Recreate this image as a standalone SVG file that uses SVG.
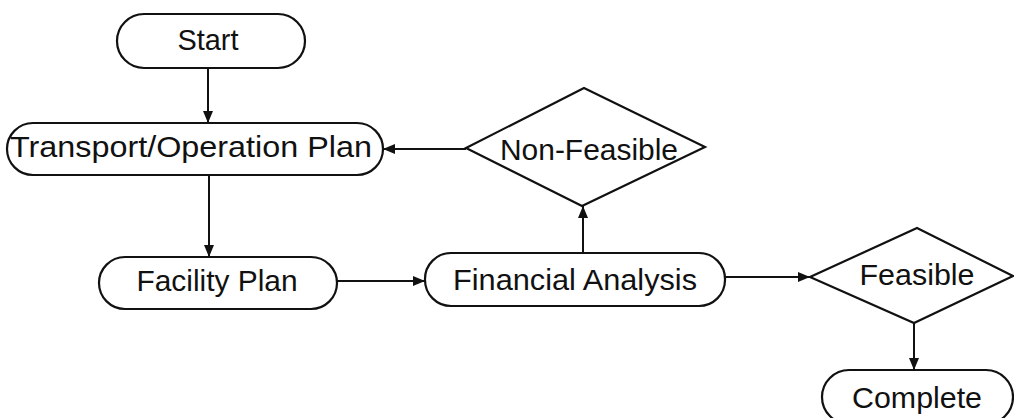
<svg xmlns="http://www.w3.org/2000/svg" width="1014" height="418" viewBox="0 0 1014 418">
<style>
.box{fill:#fff;stroke:#111;stroke-width:2.2}
.t{font-family:"Liberation Sans",Arial,sans-serif;font-size:29px;fill:#111;text-anchor:middle}
.c{stroke:#111;stroke-width:2;fill:none}
</style>
<defs>
<marker id="ah" viewBox="0 0 12 10" refX="12" refY="5" markerWidth="12" markerHeight="10" markerUnits="userSpaceOnUse" orient="auto">
<path d="M0,0 L12,5 L0,10 Z" fill="#111"/>
</marker>
</defs>
<rect width="1014" height="418" fill="#fff"/>
<g id="connectors">
<line class="c" x1="208" y1="68" x2="208" y2="123" marker-end="url(#ah)"/>
<line class="c" x1="209" y1="175" x2="209" y2="257" marker-end="url(#ah)"/>
<line class="c" x1="337" y1="281" x2="425" y2="281" marker-end="url(#ah)"/>
<line class="c" x1="583" y1="253" x2="583" y2="206" marker-end="url(#ah)"/>
<line class="c" x1="466" y1="149" x2="383" y2="149" marker-end="url(#ah)"/>
<line class="c" x1="725" y1="277" x2="810" y2="277" marker-end="url(#ah)"/>
<line class="c" x1="914" y1="323" x2="914" y2="370" marker-end="url(#ah)"/>
</g>
<g id="start">
<rect class="box" x="117" y="14" width="188" height="54" rx="27"/>
<text class="t" x="208" y="50" textLength="61" lengthAdjust="spacingAndGlyphs">Start</text>
</g>
<g id="transport">
<rect class="box" x="7" y="123" width="376" height="52" rx="26"/>
<text class="t" x="191" y="157" textLength="362" lengthAdjust="spacingAndGlyphs">Transport/Operation Plan</text>
</g>
<g id="nonfeasible">
<polygon class="box" points="584,88 705,147 582,206 466,148"/>
<text class="t" x="589" y="160" textLength="178" lengthAdjust="spacingAndGlyphs">Non-Feasible</text>
</g>
<g id="facility">
<rect class="box" x="99" y="257" width="238" height="52" rx="26"/>
<text class="t" x="217" y="291" textLength="161" lengthAdjust="spacingAndGlyphs">Facility Plan</text>
</g>
<g id="financial">
<rect class="box" x="425" y="253" width="300" height="53" rx="26"/>
<text class="t" x="575" y="290" textLength="244" lengthAdjust="spacingAndGlyphs">Financial Analysis</text>
</g>
<g id="feasible">
<polygon class="box" points="917,228 1013,276 914,323 810,277"/>
<text class="t" x="917" y="285" textLength="115" lengthAdjust="spacingAndGlyphs">Feasible</text>
</g>
<g id="complete">
<rect class="box" x="822" y="370" width="191" height="54" rx="27"/>
<text class="t" x="917" y="408" textLength="130" lengthAdjust="spacingAndGlyphs">Complete</text>
</g>
</svg>
